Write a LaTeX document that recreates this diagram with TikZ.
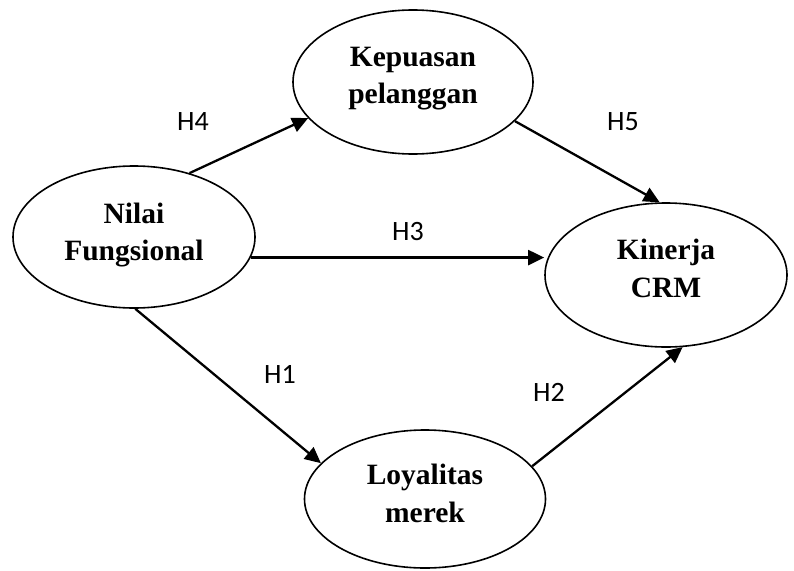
\documentclass[tikz,border=0pt]{standalone}
\usepackage{fontspec}
\setmainfont{Liberation Serif}
\newfontfamily\hypfont{Carlito}
\usetikzlibrary{arrows.meta,shapes.geometric}

\begin{document}
\begin{tikzpicture}[x=1pt,y=-1pt,
    construct/.style={draw=black, ellipse, line width=1.6pt, inner sep=0pt},
    constructText/.style={font=\fontsize{29.5}{37.5}\selectfont\bfseries,
      align=center, inner sep=0pt},
    hypothesis/.style={font=\fontsize{28}{30}\selectfont\hypfont, anchor=base},
    link/.style={draw=black, line width=2.3pt,
      -{Triangle[length=16pt,width=15pt]}}]
  \useasboundingbox (0,0) rectangle (794,570);
  \fill[white] (0,0) rectangle (794,570);

  \node[construct, minimum width=242pt, minimum height=142pt] (nilai) at (134,237) {};
  \node[construct, minimum width=240pt, minimum height=144pt] (kepuasan) at (413,82) {};
  \node[construct, minimum width=242pt, minimum height=144pt] (kinerja) at (666,275) {};
  \node[construct, minimum width=241pt, minimum height=138pt] (loyalitas) at (425,499) {};

  \node[constructText] (nilaiText) at ([yshift=2.2pt]nilai.center) {Nilai\\Fungsional};
  \node[constructText] (kepuasanText) at ([yshift=3.2pt]kepuasan.center) {Kepuasan\\pelanggan};
  \node[constructText] (kinerjaText) at ([yshift=6.5pt]kinerja.center) {Kinerja\\CRM};
  \node[constructText] (loyalitasText) at ([yshift=5.5pt]loyalitas.center) {Loyalitas\\merek};

  \draw[link] (nilai.49) -- (kepuasan.199);
  \draw[link] (kepuasan.339) -- (kinerja.95);
  \draw[link] (nilai.-10) -- (nilai.-10 -| kinerja.west);
  \draw[link] (nilai.271) -- (loyalitas.161);
  \draw[link] (loyalitas.17) -- (kinerja.283);

  \node[hypothesis] (h4) at (193,130.7) {H4};
  \node[hypothesis] (h5) at (623,130) {H5};
  \node[hypothesis] (h3) at (408,240) {H3};
  \node[hypothesis] (h1) at (280,383) {H1};
  \node[hypothesis] (h2) at (549,401) {H2};
\end{tikzpicture}
\end{document}
